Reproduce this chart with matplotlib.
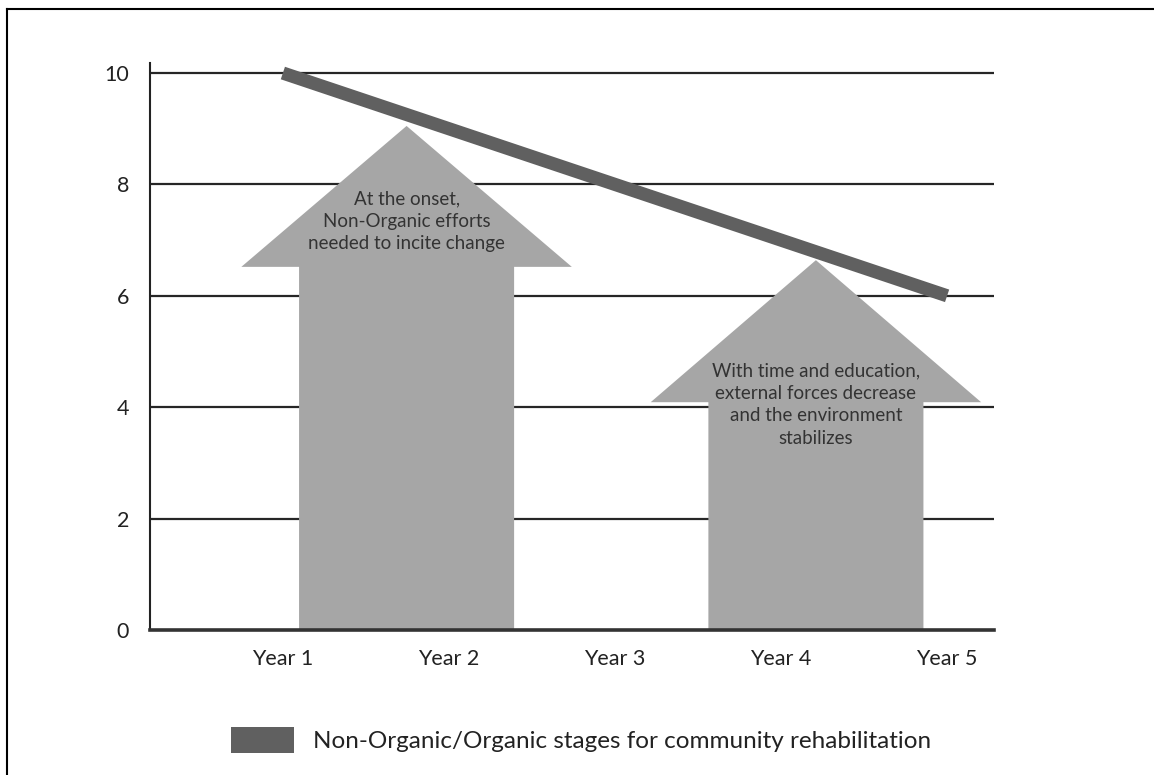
import matplotlib.pyplot as plt
from matplotlib.patches import FancyArrow, Patch
from matplotlib.lines import Line2D

plt.rcParams['font.family'] = ['Lato', 'DejaVu Sans']

Years = ['Year 1', 'Year 2', 'Year 3', 'Year 4', 'Year 5']
StageValues = [10, 9, 8, 7, 6]
YTicks = [0, 2, 4, 6, 8, 10]

# block arrows: centre position, tip height, height where the head starts
ArrowX = [1.745, 4.21]
ArrowTip = [9.05, 6.64]
ArrowHeadBase = [6.52, 4.09]
ArrowText = [
    'At the onset,\nNon-Organic efforts\nneeded to incite change',
    'With time and education,\nexternal forces decrease\nand the environment\nstabilizes',
]
ArrowTextY = [7.34, 4.05]

LegendLabel = 'Non-Organic/Organic stages for community rehabilitation'

LineColor = '#606060'
ArrowColor = '#a6a6a6'

fig = plt.figure(figsize=(11.54, 7.75), dpi=100)
ax = fig.add_axes([0.130, 0.1871, 0.731, 0.7316])

XPos = list(range(1, len(Years) + 1))

for Y in YTicks[1:]:
    ax.axhline(Y, color='#262626', lw=1.6, zorder=1)

for X, Tip, Base, Txt, TY in zip(ArrowX, ArrowTip, ArrowHeadBase, ArrowText, ArrowTextY):
    Arr = FancyArrow(X, 0, 0, Tip, width=1.295, head_width=1.99,
                     head_length=Tip - Base, length_includes_head=True,
                     facecolor=ArrowColor, edgecolor='none', zorder=2)
    ax.add_patch(Arr)
    ax.text(X, TY, Txt, ha='center', va='center', fontsize=13.5,
            color='#333333', linespacing=1.4, zorder=4)

ax.plot(XPos, StageValues, color=LineColor, lw=9.5, solid_capstyle='butt', zorder=3)

ax.set_xlim(0.2, 5.28)
ax.set_ylim(0, 10.18)
ax.set_xticks(XPos)
ax.set_xticklabels(Years)
ax.set_yticks(YTicks)
ax.tick_params(length=0, labelsize=15.5, colors='#222222')
ax.tick_params(axis='x', pad=14)
ax.tick_params(axis='y', pad=15)

for S in ['top', 'right']:
    ax.spines[S].set_visible(False)
ax.spines['left'].set_color('#222222')
ax.spines['left'].set_linewidth(1.5)
ax.spines['bottom'].set_color('#333333')
ax.spines['bottom'].set_linewidth(2.6)

fig.legend(handles=[Patch(facecolor=LineColor, edgecolor='none', label=LegendLabel)],
           loc='center left', bbox_to_anchor=(0.181, 0.045), frameon=False,
           fontsize=17.5, handlelength=2.6, handleheight=1.25, handletextpad=0.8,
           labelcolor='#222222')

# frame lines along the top and left edge
fig.add_artist(Line2D([7 / 1154, 1], [1 - 9 / 775, 1 - 9 / 775], color='black', lw=1.5))
fig.add_artist(Line2D([7 / 1154, 7 / 1154], [0, 1 - 9 / 775], color='black', lw=1.5))

fig.savefig('out.png', dpi=100)
